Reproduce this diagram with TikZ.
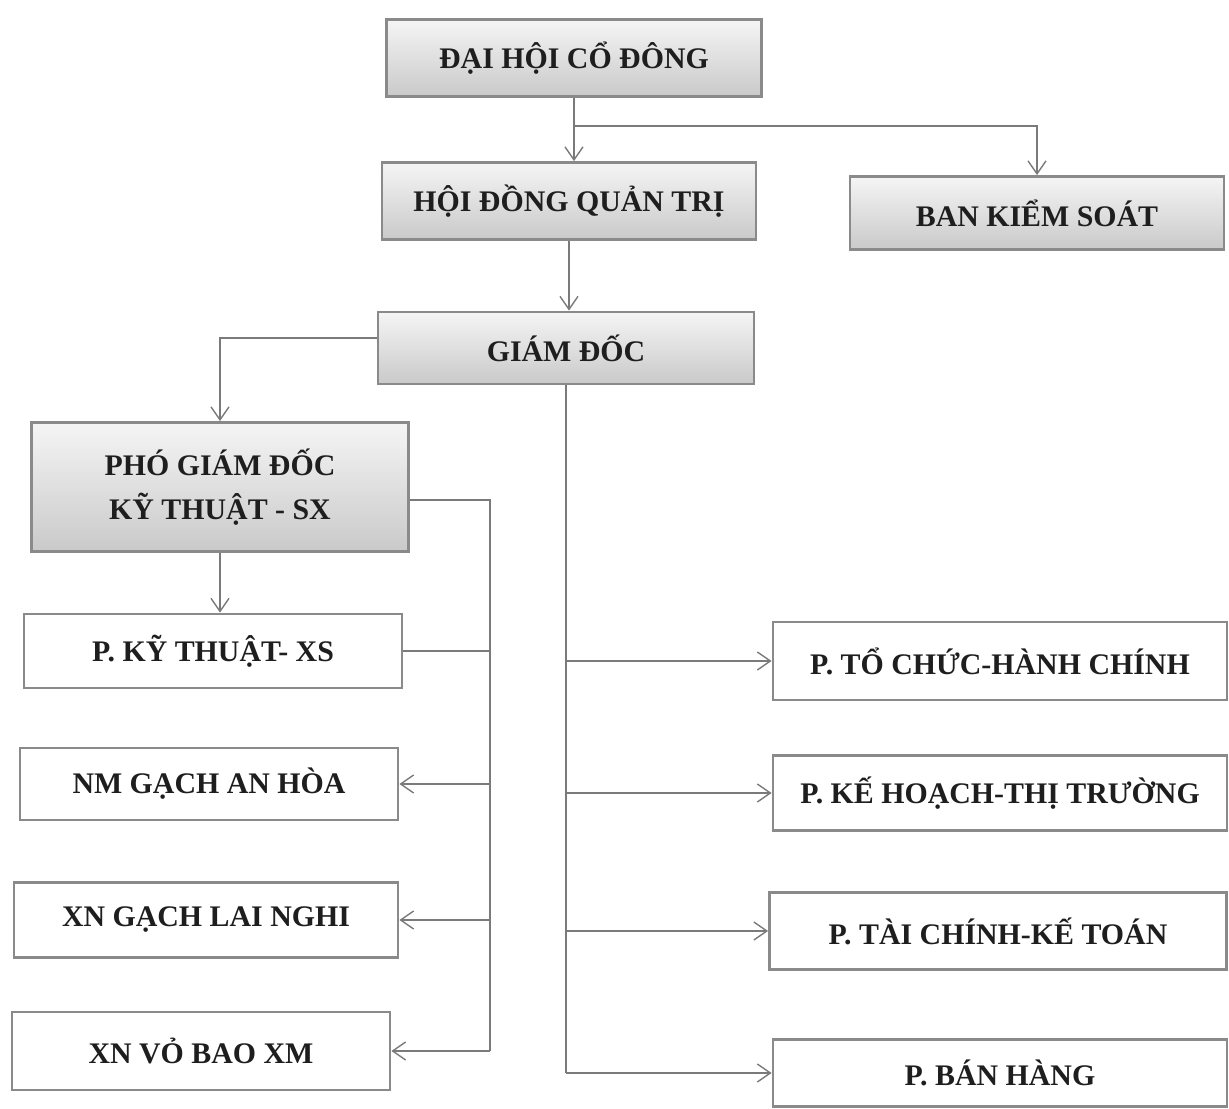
\documentclass[tikz,border=0pt]{standalone}
\usepackage{fontspec}
\setmainfont{Liberation Serif}
\usetikzlibrary{arrows.meta,positioning,calc}
\definecolor{edge}{HTML}{8A8A8A}
\definecolor{wire}{HTML}{7A7A7A}
\definecolor{inktext}{HTML}{1E1E1E}
\tikzset{
  headbox/.style={rectangle,draw=edge,line width=1.6pt,top color=gray!8,bottom color=gray!42,align=center,text=inktext,font=\fontsize{17}{25}\selectfont\bfseries},
  unitbox/.style={rectangle,draw=edge,line width=1.6pt,fill=white,align=center,text=inktext,font=\fontsize{17}{25}\selectfont\bfseries},
  arrow/.style={-{Straight Barb[length=2.6mm,width=3.6mm]},line width=0.8pt,wire},
  link/.style={line width=0.8pt,wire}
}
\begin{document}
\begin{tikzpicture}
    \useasboundingbox (0,0) rectangle (24.58,-22.18);
    % top levels
    \node[headbox,minimum width=7.5cm,minimum height=1.54cm] (dhcd) at (11.48,-1.16) {ĐẠI HỘI CỔ ĐÔNG};
    \node[headbox,minimum width=7.48cm,minimum height=1.54cm] (hdqt) at (11.38,-4.02) {HỘI ĐỒNG QUẢN TRỊ};
    \node[headbox,minimum width=7.48cm,minimum height=1.46cm] (bks) at (20.74,-4.26) {BAN KIỂM SOÁT};
    \node[headbox,minimum width=7.52cm,minimum height=1.44cm] (gd) at (11.32,-6.96) {GIÁM ĐỐC};
    \node[headbox,minimum width=7.54cm,minimum height=2.58cm] (pgd) at (4.40,-9.74) {PHÓ GIÁM ĐỐC\\KỸ THUẬT - SX};
    % left column
    \node[unitbox,minimum width=7.56cm,minimum height=1.48cm] (pkt) at (4.26,-13.02) {P. KỸ THUẬT- XS};
    \node[unitbox,minimum width=7.56cm,minimum height=1.44cm] (nmah) at (4.18,-15.68) {NM GẠCH AN HÒA};
    \node[unitbox,minimum width=7.68cm,minimum height=1.50cm] (xnln) at (4.12,-18.40) {XN GẠCH LAI NGHI};
    \node[unitbox,minimum width=7.56cm,minimum height=1.56cm] (xnvb) at (4.02,-21.02) {XN VỎ BAO XM};
    % right column
    \node[unitbox,minimum width=9.08cm,minimum height=1.56cm] (ptchc) at (20.00,-13.22) {P. TỔ CHỨC-HÀNH CHÍNH};
    \node[unitbox,minimum width=9.08cm,minimum height=1.50cm] (pkhtt) at (20.00,-15.86) {P. KẾ HOẠCH-THỊ TRƯỜNG};
    \node[unitbox,minimum width=9.14cm,minimum height=1.54cm] (ptckt) at (19.96,-18.62) {P. TÀI CHÍNH-KẾ TOÁN};
    \node[unitbox,minimum width=9.08cm,minimum height=1.34cm] (pbh) at (20.00,-21.46) {P. BÁN HÀNG};
    % buses
    \coordinate (split) at ($(dhcd.south)+(0,-0.56)$);
    \coordinate (busL) at (9.80,-10.00);
    \draw[arrow] (dhcd.south) -- (dhcd.south |- hdqt.north);
    \draw[arrow] (split) -| (bks.north);
    \draw[arrow] (hdqt.south) -- (hdqt.south |- gd.north);
    \draw[arrow] ([yshift=0.2cm]gd.west) -| (pgd.north);
    \draw[arrow] (pgd.south) -- (pgd.south |- pkt.north);
    \draw[link] (pgd.east |- busL) -- (busL) -- (busL |- xnvb.east);
    \draw[link] (pkt.east) -- (pkt.east -| busL);
    \draw[arrow] (nmah.east -| busL) -- (nmah.east);
    \draw[arrow] (xnln.east -| busL) -- (xnln.east);
    \draw[arrow] (xnvb.east -| busL) -- (xnvb.east);
    \draw[link] (gd.south) -- (gd.south |- pbh.west);
    \draw[arrow] (gd.south |- ptchc.west) -- (ptchc.west);
    \draw[arrow] (gd.south |- pkhtt.west) -- (pkhtt.west);
    \draw[arrow] (gd.south |- ptckt.west) -- (ptckt.west);
    \draw[arrow] (gd.south |- pbh.west) -- (pbh.west);
  \end{tikzpicture}
\end{document}
